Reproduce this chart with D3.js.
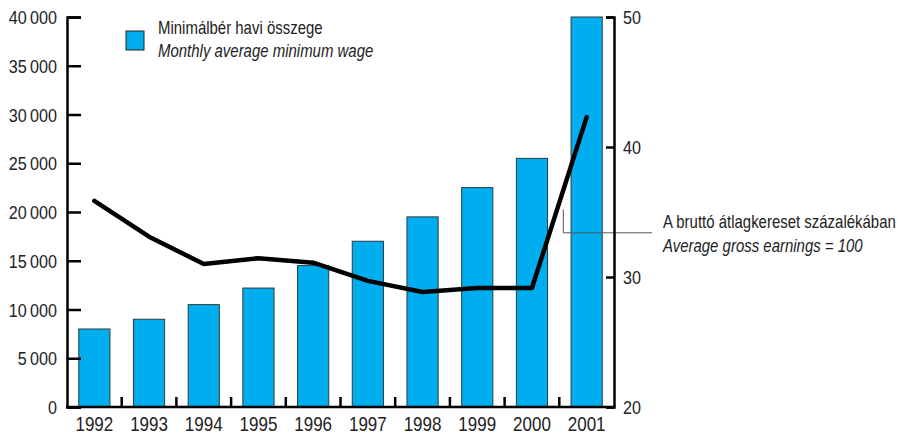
<!DOCTYPE html>
<html>
<head>
<meta charset="utf-8">
<script src="https://cdn.jsdelivr.net/npm/d3@7"></script>
<style>
  html, body { margin: 0; padding: 0; background: #fff; }
  svg { display: block; }
  text { font-family: "Liberation Sans", Arial, sans-serif; fill: #222; }
</style>
</head>
<body>
<svg id="chart" width="902" height="434"></svg>
<script>
// ---- data ----
const years = ["1992","1993","1994","1995","1996","1997","1998","1999","2000","2001"];
const minWage = [8000, 9000, 10500, 12200, 14500, 17000, 19500, 22500, 25500, 40000];
const pctOfAverage = [35.85, 33.1, 31.0, 31.45, 31.1, 29.7, 28.85, 29.15, 29.15, 42.3];
const leftTicks = [0, 5000, 10000, 15000, 20000, 25000, 30000, 35000, 40000];
const rightTicks = [20, 30, 40, 50];
const legendLines = ["Minimálbér havi összege", "Monthly average minimum wage"];
const noteLines = ["A bruttó átlagkereset százalékában", "Average gross earnings = 100"];

// ---- layout ----
const L = 67, R = 614, T = 17, B = 407;
const SX = 0.85; // horizontal condensing of the font
const svg = d3.select("#chart");

const x = d3.scaleBand().domain(years).range([L, R]).paddingInner(0.43).paddingOuter(0.215);
const yL = d3.scaleLinear().domain([0, 40000]).range([B, T]);
const yR = d3.scaleLinear().domain([20, 50]).range([B, T]);
const step = x.step(), bw = x.bandwidth();
const fmt = v => v >= 1000 ? d3.format(",")(v).replace(/,/g, "\u2009") : String(v);

function label(g, px, py, str, size, anchor, italic) {
  return g.append("text")
    .attr("transform", `translate(${px},${py}) scale(${SX},1)`)
    .attr("text-anchor", anchor || "start")
    .attr("font-size", size)
    .attr("font-style", italic ? "italic" : "normal")
    .text(str);
}

// bars
svg.append("g").selectAll("rect").data(years).join("rect")
  .attr("x", d => x(d))
  .attr("y", (d, i) => yL(minWage[i]))
  .attr("width", bw)
  .attr("height", (d, i) => B - yL(minWage[i]))
  .attr("fill", "#00AEEF")
  .attr("stroke", "#2b3a40")
  .attr("stroke-width", 1);

// leader line for the annotation
const xa = x("2000") + bw + (step - bw) / 2 + 4;
svg.append("path")
  .attr("d", `M${xa},${yR(35.2)} L${xa},${yR(33.4)} L652,${yR(33.4)}`)
  .attr("fill", "none").attr("stroke", "#555").attr("stroke-width", 1);

// line
const line = d3.line().x((d, i) => x(years[i]) + bw / 2).y(d => yR(d));
svg.append("path").datum(pctOfAverage)
  .attr("d", line)
  .attr("fill", "none").attr("stroke", "#000")
  .attr("stroke-width", 4.5).attr("stroke-linejoin", "round").attr("stroke-linecap", "round");

// left axis
const gl = svg.append("g").attr("transform", `translate(${L},0)`)
  .call(d3.axisRight(yL).tickValues(leftTicks).tickSize(14).tickFormat(""));
gl.select(".domain").attr("stroke", "#000").attr("stroke-width", 2.5);
gl.selectAll(".tick line").attr("stroke", "#000").attr("stroke-width", 2.5);
const glt = svg.append("g");
leftTicks.forEach(d => label(glt, 57, yL(d) + 7, fmt(d), 19, "end"));

// right axis
const gr = svg.append("g").attr("transform", `translate(${R},0)`)
  .call(d3.axisLeft(yR).tickValues(rightTicks).tickSize(8).tickFormat(""));
gr.select(".domain").attr("stroke", "#000").attr("stroke-width", 2.5);
gr.selectAll(".tick line").attr("stroke", "#000").attr("stroke-width", 2.5);
const grt = svg.append("g");
rightTicks.forEach(d => label(grt, 623, yR(d) + 7, String(d), 19, "start"));

// bottom axis
svg.append("line").attr("x1", L - 1).attr("x2", R + 1).attr("y1", B).attr("y2", B)
  .attr("stroke", "#000").attr("stroke-width", 2.5);
svg.append("g").selectAll("line").data(years.slice(1)).join("line")
  .attr("x1", d => x(d) - (step - bw) / 2).attr("x2", d => x(d) - (step - bw) / 2)
  .attr("y1", B).attr("y2", B - 10)
  .attr("stroke", "#000").attr("stroke-width", 2.5);
const gx = svg.append("g");
years.forEach(d => label(gx, x(d) + bw / 2, 431, d, 20, "middle"));

// legend
svg.append("rect").attr("x", 126).attr("y", 31).attr("width", 18).attr("height", 19)
  .attr("fill", "#00AEEF").attr("stroke", "#222").attr("stroke-width", 1);
label(svg, 158, 34, legendLines[0], 17.6, "start", false);
label(svg, 158, 57, legendLines[1], 17.6, "start", true);

// annotation
label(svg, 663, 228, noteLines[0], 17.6, "start", false);
label(svg, 663, 252, noteLines[1], 17.6, "start", true);
</script>
</body>
</html>
